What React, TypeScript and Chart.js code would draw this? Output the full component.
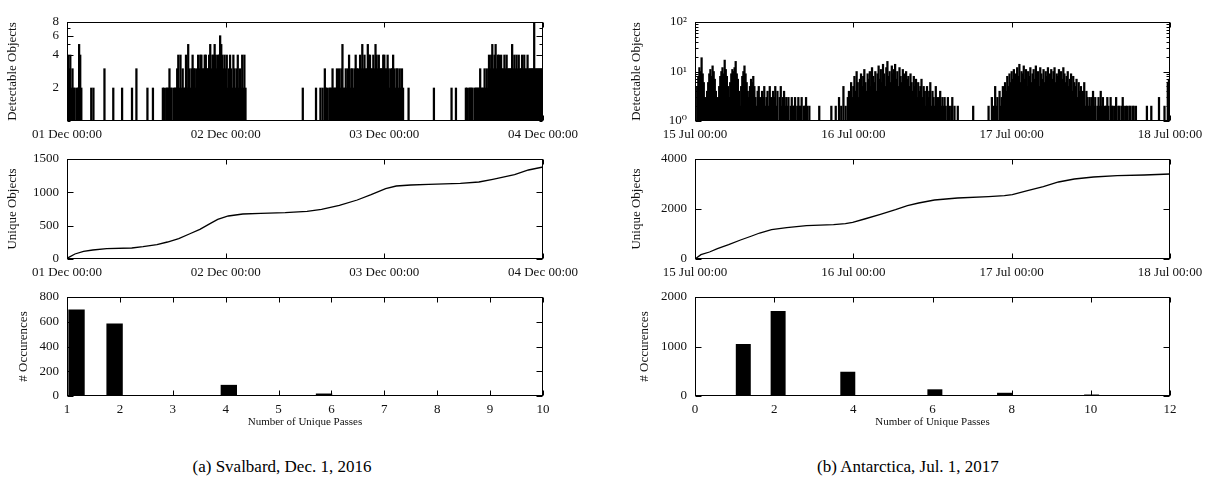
import React, { useEffect, useRef } from 'react';
import { Chart, registerables } from 'chart.js';

Chart.register(...registerables);

const SERIF = "'Liberation Serif', 'DejaVu Serif', 'Times New Roman', serif";
Chart.defaults.font.family = SERIF;
Chart.defaults.color = '#111';

// ---------------- DATA ----------------
// time axis: 10-minute samples over 72 hours
const STEP_HOURS = 1 / 6;
const timeTickHours = [0, 24, 48, 72];
const svalbardTimeLabels = ['01 Dec 00:00', '02 Dec 00:00', '03 Dec 00:00', '04 Dec 00:00'];
const antarcticaTimeLabels = ['15 Jul 00:00', '16 Jul 00:00', '17 Jul 00:00', '18 Jul 00:00'];

// detectable objects per sample (Svalbard)
const svalbardDetectable = [
  4,4,3,4,2,3,2,2,1,2,2,5,4,2,1,1,1,1,1,1,1,1,2,1,2,1,1,1,1,1,1,1,1,1,3,1,
  1,1,1,1,1,1,2,1,1,1,1,1,1,1,2,1,1,1,1,1,1,1,1,2,1,1,1,3,1,1,1,1,1,1,1,1,
  1,2,1,1,1,1,2,1,1,1,1,1,1,1,1,2,2,1,2,2,2,3,2,2,1,2,2,2,3,4,2,4,2,3,2,2,
  4,2,5,3,2,3,4,3,3,2,3,4,3,4,4,3,3,4,4,3,3,4,5,3,4,4,5,4,3,4,4,6,5,4,3,4,
  3,4,2,3,4,3,2,4,3,2,3,4,2,3,2,4,2,4,2,1,1,1,1,1,1,1,1,1,1,1,1,1,1,1,1,1,
  1,1,1,1,1,1,1,1,1,1,1,1,1,1,1,1,1,1,1,1,1,1,1,1,1,1,1,1,1,1,1,1,1,1,2,1,
  1,1,1,1,1,1,1,1,1,1,2,1,1,1,2,1,2,1,3,2,2,1,2,2,2,3,2,2,2,3,2,3,2,3,5,2,
  2,3,2,3,4,2,3,3,2,3,4,3,3,2,4,3,5,3,4,3,3,5,4,4,3,3,4,3,5,4,3,4,3,3,3,4,
  4,3,3,4,3,2,3,3,4,3,2,3,3,2,3,2,3,2,1,1,1,1,2,1,1,1,1,1,1,1,1,1,1,1,1,1,
  1,1,1,1,1,1,1,1,1,2,1,1,1,1,1,1,1,1,1,1,1,1,1,1,1,2,1,1,1,2,1,1,1,1,1,1,
  1,1,2,2,1,2,2,2,2,1,2,2,2,2,2,3,2,2,2,3,2,3,2,4,3,4,5,3,4,5,3,4,4,3,4,3,
  3,4,3,4,3,3,3,3,5,3,4,3,4,3,4,3,3,4,3,4,3,3,4,3,3,3,3,3,8,3,3,3,3,3,3,3,
];

// detectable objects per sample (Antarctica)
const antarcticaDetectable = [
  3,1,5,8,12,10,19,9,6,3,2,4,6,9,11,8,13,10,7,4,2,3,5,8,10,12,9,17,11,8,5,3,6,9,11,10,
  12,16,9,7,4,2,5,8,10,13,9,6,4,3,5,7,6,8,5,3,2,4,5,3,2,4,3,5,2,3,4,2,5,3,2,4,
  3,5,2,4,1,3,5,2,3,4,2,3,2,3,1,2,3,2,2,3,1,2,3,2,2,3,1,2,2,3,2,1,2,1,1,1,
  1,1,1,1,1,2,1,1,1,1,1,1,1,1,1,1,2,1,1,1,2,1,1,3,1,2,1,5,1,2,1,3,4,2,6,3,
  5,8,4,10,6,3,7,9,5,8,11,6,4,9,7,10,5,12,8,6,10,4,9,13,7,11,6,14,9,5,12,16,8,10,6,13,
  9,11,14,7,10,5,12,8,6,11,9,4,10,7,8,5,9,6,4,8,5,7,3,6,4,5,7,3,5,4,2,5,3,4,6,2,
  4,3,2,5,3,2,3,4,2,3,2,3,2,1,3,2,1,2,3,1,2,1,1,2,1,1,1,1,1,1,1,1,1,1,1,1,
  1,2,1,1,1,1,1,1,1,1,1,1,1,1,1,2,1,1,3,1,2,5,2,3,1,4,2,3,5,3,6,4,8,5,9,6,
  10,7,11,5,9,12,8,14,6,10,9,13,7,11,5,10,8,12,6,9,11,7,13,8,10,5,12,9,7,11,6,10,8,12,5,9,
  11,7,10,12,6,9,8,11,5,10,7,12,9,6,8,10,5,7,9,4,8,6,5,7,3,6,4,5,3,4,6,2,4,3,2,3,
  2,3,4,2,3,1,2,3,2,4,2,3,1,2,2,3,2,1,3,2,2,1,2,3,1,2,2,1,2,3,2,1,2,2,1,2,
  2,1,2,2,1,2,1,1,1,1,1,1,1,1,1,2,1,1,1,2,1,1,1,1,1,1,3,1,1,1,1,2,1,1,6,7,
];

// cumulative unique objects
const svalbardCumHours = [0,1.2,2.5,3.9,6,9.8,11.5,13.6,15.2,16.9,18.5,20.1,21.7,22.8,24.4,26.6,29.3,33,36.3,38.5,41.2,43.9,46,48.2,49.8,52,54.7,59.5,62.3,64.4,67.7,69.8,72];
const svalbardCumValues = [10,75,115,135,155,165,185,215,255,305,375,445,535,595,645,675,685,695,715,745,805,885,965,1055,1095,1110,1120,1135,1155,1195,1265,1335,1380];
const antarcticaCumHours = [0,0.9,2.2,3.4,5.1,6.9,8.6,9.8,11.6,13.9,16.9,21,22.8,23.9,25.7,28.1,30.4,32.2,33.9,36.3,39.8,44.5,46.9,48.1,50.4,52.8,55.1,57.5,60.4,64,68.1,72];
const antarcticaCumValues = [0,173,280,413,573,760,920,1040,1173,1253,1333,1373,1413,1467,1600,1787,1973,2133,2240,2360,2440,2493,2533,2573,2733,2893,3080,3200,3280,3333,3360,3400];

// histograms of unique passes (25 bins)
const svalbardBinCenters = [1.18,1.54,1.90,2.26,2.62,2.98,3.34,3.70,4.06,4.42,4.78,5.14,5.50,5.86,6.22,6.58,6.94,7.30,7.66,8.02,8.38,8.74,9.10,9.46,9.82];
const svalbardBinCounts = [700,0,585,0,0,3,0,0,90,0,0,2,0,20,0,0,1,0,0,8,0,0,1,0,2];
const antarcticaBinCenters = [1.22,1.66,2.10,2.54,2.98,3.42,3.86,4.30,4.74,5.18,5.62,6.06,6.50,6.94,7.38,7.82,8.26,8.70,9.14,9.58,10.02,10.46,10.90,11.34,11.78];
const antarcticaBinCounts = [1050,0,1717,0,20,0,490,0,0,4,0,135,0,6,0,65,0,0,5,0,30,0,4,0,12];

// axis ticks
const svalbardLogTicks = [1,2,3,4,5,6,7,8];
const svalbardLogLabels = ['','2','','4','','6','','8'];
const antarcticaLogTicks = [1,2,3,4,5,6,7,8,9,10,20,30,40,50,60,70,80,90,100];
const antarcticaLogLabels = ['10\u2070','','','','','','','','','10\u00b9','','','','','','','','','10\u00b2'];
const svalbardCumTicks = [0,500,1000,1500];
const antarcticaCumTicks = [0,2000,4000];
const svalbardHistXTicks = [1,2,3,4,5,6,7,8,9,10];
const antarcticaHistXTicks = [0,2,4,6,8,10,12];
const svalbardHistYTicks = [0,200,400,600,800];
const antarcticaHistYTicks = [0,1000,2000];

// ---------------- LAYOUT ----------------
type Box = { x: number; y: number; w: number; h: number; pl: number; pt: number; pr: number; pb: number };
const COLS = [
  { x: 5, w: 595, pl: 67, pr: 543 },
  { x: 629, w: 580, pl: 695, pr: 1170 },
];
const ROWS = [
  { y: 0, h: 150, pt: 22, pb: 121 },
  { y: 140, h: 150, pt: 159, pb: 259 },
  { y: 278, h: 152, pt: 297, pb: 396 },
];
const boxOf = (c: number, r: number): Box => ({ ...COLS[c], ...ROWS[r] } as any);

const frame = {
  id: 'frame',
  afterDatasetsDraw(chart: any) {
    const { ctx, chartArea: a, scales } = chart;
    const L = Math.round(a.left) + 0.5, R = Math.round(a.right) - 0.5;
    const T = Math.round(a.top) + 0.5, B = Math.round(a.bottom) - 0.5;
    ctx.save();
    ctx.strokeStyle = '#000';
    ctx.lineWidth = 1;
    ctx.beginPath();
    const xs = scales.x, ys = scales.y;
    for (const t of xs.ticks) {
      const p = Math.round(xs.getPixelForValue(t.value)) + 0.5;
      ctx.moveTo(p, B); ctx.lineTo(p, B - 5);
      ctx.moveTo(p, T); ctx.lineTo(p, T + 5);
    }
    for (const t of ys.ticks) {
      const p = Math.round(ys.getPixelForValue(t.value)) + 0.5;
      const len = t.label ? 6 : 3;
      ctx.moveTo(L, p); ctx.lineTo(L + len, p);
      ctx.moveTo(R, p); ctx.lineTo(R - len, p);
    }
    ctx.stroke();
    ctx.strokeRect(L, T, R - L, B - T);
    ctx.restore();
  },
};

function fixedTicks(values: number[], labels?: string[]) {
  return {
    afterBuildTicks: (s: any) => { s.ticks = values.map((v) => ({ value: v })); },
    ticks: {
      autoSkip: false,
      maxRotation: 0,
      font: { size: 13 },
      color: '#111',
      callback: (v: any) => (labels ? labels[values.indexOf(v)] ?? '' : String(v)),
    },
  };
}

function buildConfig(box: Box, type: string, datasets: any[], xScale: any, yScale: any) {
  const yw = box.pl - box.x;
  const xh = box.y + box.h - box.pb;
  return {
    type,
    data: { datasets },
    options: {
      animation: false,
      responsive: false,
      maintainAspectRatio: false,
      events: [],
      layout: { padding: { left: 0, top: box.pt - box.y, right: box.x + box.w - box.pr, bottom: 0 } },
      plugins: { legend: { display: false }, tooltip: { enabled: false } },
      scales: {
        x: {
          ...xScale,
          offset: false,
          grid: { display: false, drawTicks: false },
          border: { display: false },
          ticks: { ...xScale.ticks, padding: 6 },
          afterFit: (s: any) => { s.height = xh; s.paddingLeft = 0; s.paddingRight = 0; },
        },
        y: {
          ...yScale,
          grid: { display: false, drawTicks: false },
          border: { display: false },
          ticks: { ...yScale.ticks, padding: 8 },
          afterFit: (s: any) => { s.width = yw; s.paddingTop = 0; s.paddingBottom = 0; },
        },
      },
    },
    plugins: [frame],
  } as any;
}

const yTitle = (text: string, shift = 0) => ({
  display: true,
  text,
  font: { size: 13 },
  color: '#111',
  padding: { top: shift, bottom: 0 },
});

const xTitle = {
  display: true,
  text: 'Number of Unique Passes',
  font: { size: 11 },
  color: '#111',
  padding: { top: 0, bottom: 1 },
};

function detectableConfig(box: Box, values: number[], labels: string[], logTicks: number[], logLabels: string[], max: number) {
  return buildConfig(
    box,
    'bar',
    [{
      data: values.map((v, i) => ({ x: i * STEP_HOURS, y: v })),
      backgroundColor: '#000',
      borderWidth: 0,
      barThickness: 1.6,
    }],
    { type: 'linear', min: 0, max: 72, ...fixedTicks(timeTickHours, labels) },
    { type: 'logarithmic', min: 1, max, ...fixedTicks(logTicks, logLabels), title: yTitle('Detectable Objects') },
  );
}

function cumulativeConfig(box: Box, hours: number[], values: number[], labels: string[], yTicks: number[]) {
  return buildConfig(
    box,
    'line',
    [{
      data: hours.map((h, i) => ({ x: h, y: values[i] })),
      borderColor: '#000',
      borderWidth: 1.3,
      pointRadius: 0,
      tension: 0,
      fill: false,
    }],
    { type: 'linear', min: 0, max: 72, ...fixedTicks(timeTickHours, labels) },
    { type: 'linear', min: yTicks[0], max: yTicks[yTicks.length - 1], ...fixedTicks(yTicks), title: yTitle('Unique Objects') },
  );
}

function histConfig(box: Box, centers: number[], counts: number[], xTicks: number[], yTicks: number[], shift: number) {
  return buildConfig(
    box,
    'bar',
    [{
      data: centers.map((c, i) => ({ x: c, y: counts[i] })),
      backgroundColor: '#000',
      borderWidth: 0,
      barPercentage: 0.86,
      categoryPercentage: 1,
    }],
    { type: 'linear', min: xTicks[0], max: xTicks[xTicks.length - 1], ...fixedTicks(xTicks), title: xTitle },
    { type: 'linear', min: yTicks[0], max: yTicks[yTicks.length - 1], ...fixedTicks(yTicks), title: yTitle('# Occurences', shift) },
  );
}

function ChartCanvas({ box, config }: { box: Box; config: () => any }) {
  const ref = useRef<HTMLCanvasElement>(null);
  useEffect(() => {
    const chart = new Chart(ref.current as HTMLCanvasElement, config());
    return () => chart.destroy();
  }, []);
  return (
    <canvas
      ref={ref}
      width={box.w}
      height={box.h}
      style={{ position: 'absolute', left: box.x, top: box.y, width: box.w, height: box.h }}
    />
  );
}

const captionStyle = (cx: number): React.CSSProperties => ({
  position: 'absolute',
  left: cx - 200,
  top: 457,
  width: 400,
  textAlign: 'center',
  fontFamily: SERIF,
  fontSize: 17,
  lineHeight: '20px',
  color: '#000',
  whiteSpace: 'nowrap',
});

export default function App() {
  const b = [[boxOf(0, 0), boxOf(0, 1), boxOf(0, 2)], [boxOf(1, 0), boxOf(1, 1), boxOf(1, 2)]];
  return (
    <div style={{ position: 'fixed', left: 0, top: 0, width: 1209, height: 488, overflow: 'hidden', background: '#fff' }}>
      <ChartCanvas box={b[0][0]} config={() => detectableConfig(b[0][0], svalbardDetectable, svalbardTimeLabels, svalbardLogTicks, svalbardLogLabels, 8)} />
      <ChartCanvas box={b[0][1]} config={() => cumulativeConfig(b[0][1], svalbardCumHours, svalbardCumValues, svalbardTimeLabels, svalbardCumTicks)} />
      <ChartCanvas box={b[0][2]} config={() => histConfig(b[0][2], svalbardBinCenters, svalbardBinCounts, svalbardHistXTicks, svalbardHistYTicks, 11)} />
      <ChartCanvas box={b[1][0]} config={() => detectableConfig(b[1][0], antarcticaDetectable, antarcticaTimeLabels, antarcticaLogTicks, antarcticaLogLabels, 100)} />
      <ChartCanvas box={b[1][1]} config={() => cumulativeConfig(b[1][1], antarcticaCumHours, antarcticaCumValues, antarcticaTimeLabels, antarcticaCumTicks)} />
      <ChartCanvas box={b[1][2]} config={() => histConfig(b[1][2], antarcticaBinCenters, antarcticaBinCounts, antarcticaHistXTicks, antarcticaHistYTicks, 8)} />
      <div style={captionStyle(282)}>(a) Svalbard, Dec. 1, 2016</div>
      <div style={captionStyle(908)}>(b) Antarctica, Jul. 1, 2017</div>
    </div>
  );
}
